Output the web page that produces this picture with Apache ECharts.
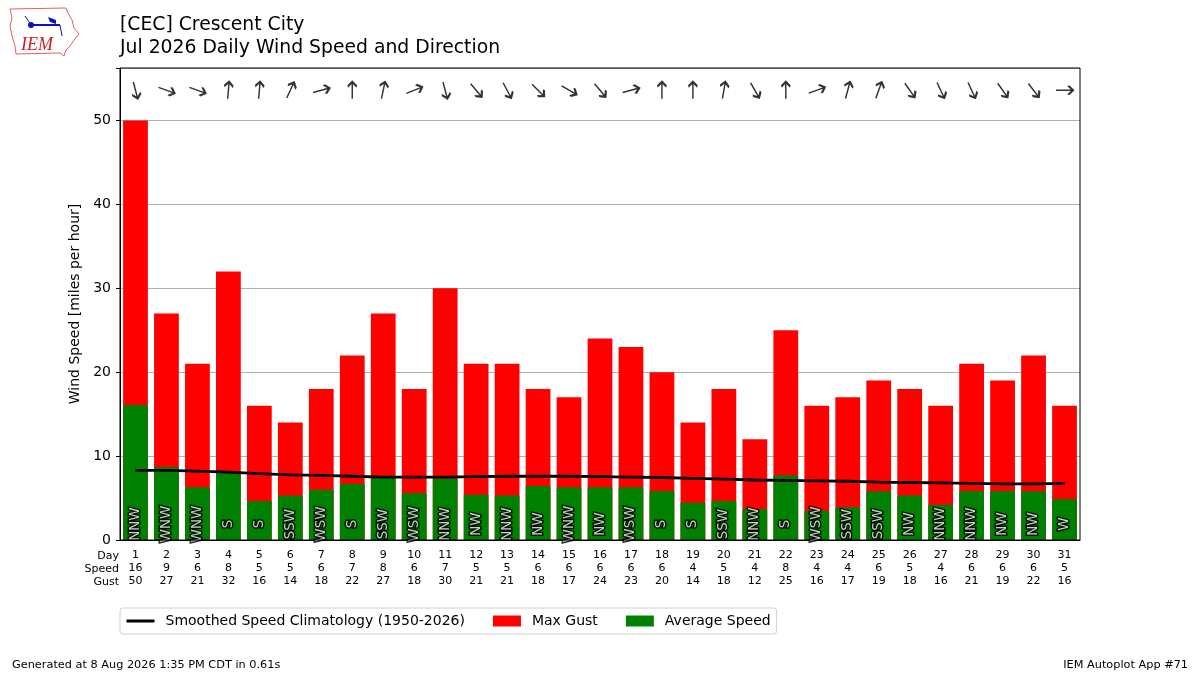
<!DOCTYPE html>
<html>
<head>
<meta charset="utf-8">
<script src="https://cdn.jsdelivr.net/npm/echarts@6/dist/echarts.min.js"></script>
<style>
html,body{margin:0;padding:0;background:#fff;}
#chart{width:1200px;height:675px;}
</style>
</head>
<body>
<div id="chart"></div>
<script>
const days = ['1','2','3','4','5','6','7','8','9','10','11','12','13','14','15','16','17','18','19','20','21','22','23','24','25','26','27','28','29','30','31'];
const maxGust = [50,27,21,32,16,14,18,22,27,18,30,21,21,18,17,24,23,20,14,18,12,25,16,17,19,18,16,21,19,22,16];
const avgSpeed = [16.1,8.7,6.3,8.1,4.65,5.3,6.0,6.7,7.6,5.6,7.3,5.4,5.3,6.45,6.3,6.3,6.3,5.85,4.45,4.65,3.7,7.7,3.5,3.9,5.8,5.3,4.2,5.85,5.85,5.8,4.9];
const speedLabels = [16,9,6,8,5,5,6,7,8,6,7,5,5,6,6,6,6,6,4,5,4,8,4,4,6,5,4,6,6,6,5];
const dirLabels = ['NNW','WNW','WNW','S','S','SSW','WSW','S','SSW','WSW','NNW','NW','NNW','NW','WNW','NW','WSW','S','S','SSW','NNW','S','WSW','SSW','SSW','NW','NNW','NNW','NW','NW','W'];
const dirDegrees = [345,290,290,185,185,205,255,180,192,248,345,320,332,315,300,320,255,180,180,190,330,180,250,195,200,325,335,335,325,322,270];
const climo = [8.3,8.3,8.2,8.1,7.9,7.75,7.7,7.6,7.5,7.5,7.5,7.55,7.6,7.6,7.6,7.55,7.5,7.45,7.35,7.25,7.15,7.1,7.05,7.0,6.9,6.85,6.8,6.75,6.7,6.7,6.75];
const yTicks = [0,10,20,30,40,50];

const FONT = 'DejaVu Sans';
const chart = echarts.init(document.getElementById('chart'), null, {renderer:'canvas'});

const arrowY = 53.6;
const labelY = 1.9;

function dirTextSeries(name, fill, border, bw, z) {
  return {
    name: name, type: 'scatter', z: z,
    data: days.map((d, i) => [i, labelY]),
    symbolSize: 1, itemStyle: {color: 'rgba(0,0,0,0)'},
    label: {
      show: true, position: 'inside', rotate: 90, fontSize: 13.5, color: fill, fontFamily: FONT,
      textBorderColor: border, textBorderWidth: bw,
      formatter: p => dirLabels[p.dataIndex]
    },
    silent: true
  };
}

const option = {
  animation: false,
  backgroundColor: '#fff',
  textStyle: {fontFamily: FONT, color: '#000'},
  grid: {left: 120, right: 120, top: 68, bottom: 135, containLabel: false},
  xAxis: {
    type: 'category',
    data: days,
    boundaryGap: true,
    axisLine: {lineStyle: {color: '#000', width: 1}},
    axisTick: {alignWithLabel: true, length: 4, lineStyle: {color: '#000'}},
    axisLabel: {
      interval: 0, margin: 8, fontSize: 11, lineHeight: 13.3, color: '#000', fontFamily: FONT,
      formatter: (v, i) => v + '\n' + speedLabels[i] + '\n' + maxGust[i]
    },
    splitLine: {show: false}
  },
  yAxis: {
    type: 'value', min: 0, max: 56.25, interval: 10,
    name: 'Wind Speed [miles per hour]', nameLocation: 'middle', nameGap: 31,
    nameTextStyle: {fontSize: 14, color: '#000', fontFamily: FONT},
    axisLine: {show: true, lineStyle: {color: '#000'}},
    axisTick: {show: true, length: 4, lineStyle: {color: '#000'}},
    axisLabel: {fontSize: 14, color: '#000', margin: 9, fontFamily: FONT,
      formatter: v => (yTicks.indexOf(v) >= 0 ? String(v) : '')},
    splitLine: {show: true, lineStyle: {color: '#b0b0b0', width: 1}}
  },
  legend: {
    left: 120, top: 608, orient: 'horizontal',
    padding: [6, 6, 6, 5], itemGap: 28, itemWidth: 28, itemHeight: 11,
    borderColor: '#d0d0d0', borderWidth: 1, borderRadius: 3, backgroundColor: '#fff',
    textStyle: {fontSize: 14, color: '#000', fontFamily: FONT, padding: [0,0,0,6]},
    data: [
      {name: 'Smoothed Speed Climatology (1950-2026)', itemStyle: {opacity: 0}, lineStyle: {width: 3, color: '#000'}},
      {name: 'Max Gust', icon: 'rect'},
      {name: 'Average Speed', icon: 'rect'}
    ]
  },
  series: [
    {
      name: 'Max Gust', type: 'bar', data: maxGust, barWidth: '80%', barGap: '-100%',
      itemStyle: {color: '#ff0000'}, z: 2
    },
    {
      name: 'Average Speed', type: 'bar', data: avgSpeed, barWidth: '80%', barGap: '-100%',
      itemStyle: {color: '#008000'}, z: 3
    },
    {
      name: 'Smoothed Speed Climatology (1950-2026)', type: 'line', data: climo,
      symbol: 'none', showSymbol: false, smooth: false,
      lineStyle: {color: '#000', width: 2.8}, itemStyle: {color: '#000'}, z: 4
    },
    dirTextSeries('dirOutline', '#000', '#000', 3, 6),
    dirTextSeries('dirFill', '#fff', 'rgba(0,0,0,0)', 0, 20),
    {
      name: 'arrows', type: 'scatter', z: 6,
      data: days.map((d, i) => ({value: [i, arrowY], symbolRotate: -((dirDegrees[i] + 180) % 360)})),
      symbol: 'path://M0,-9 L0,9 M-4.5,-4 L0,-9 L4.5,-4',
      symbolSize: [9, 17],
      itemStyle: {color: 'none', borderColor: '#000', borderWidth: 2},
      silent: true
    }
  ],
  graphic: [
    {type: 'rect', z: 100, silent: true, shape: {x: 120, y: 68, width: 960, height: 472},
      style: {fill: 'none', stroke: '#000', lineWidth: 1}},
    {type: 'text', x: 120, y: 25, style: {text: '[CEC] Crescent City', font: '18.8px "DejaVu Sans"', fill: '#000', verticalAlign: 'middle'}},
    {type: 'text', x: 120, y: 48, style: {text: 'Jul 2026 Daily Wind Speed and Direction', font: '18.8px "DejaVu Sans"', fill: '#000', verticalAlign: 'middle'}},
    {type: 'text', x: 119, y: 555.7, style: {text: 'Day', font: '11px "DejaVu Sans"', fill: '#000', align: 'right', verticalAlign: 'middle'}},
    {type: 'text', x: 119, y: 569, style: {text: 'Speed', font: '11px "DejaVu Sans"', fill: '#000', align: 'right', verticalAlign: 'middle'}},
    {type: 'text', x: 119, y: 582.3, style: {text: 'Gust', font: '11px "DejaVu Sans"', fill: '#000', align: 'right', verticalAlign: 'middle'}},
    {type: 'text', x: 12, y: 665, style: {text: 'Generated at 8 Aug 2026 1:35 PM CDT in 0.61s', font: '11.3px "DejaVu Sans"', fill: '#000', verticalAlign: 'middle'}},
    {type: 'text', x: 1188, y: 665, style: {text: 'IEM Autoplot App #71', font: '11.3px "DejaVu Sans"', fill: '#000', align: 'right', verticalAlign: 'middle'}},
    // IEM logo approximation
    {type: 'polygon', silent: true, shape: {points: [[10,9],[66,8],[68,13],[72,20],[74,28],[79,34],[74,40],[70,46],[66,50],[64,56],[60,53],[16,54],[15,46],[12,36],[10,26],[12,18]]},
      style: {fill: '#fff', stroke: '#e06060', lineWidth: 1}},
    {type: 'line', silent: true, shape: {x1: 31, y1: 25, x2: 60, y2: 25}, style: {stroke: '#1010c0', lineWidth: 2}},
    {type: 'circle', silent: true, shape: {cx: 31, cy: 25, r: 3}, style: {fill: '#1010c0'}},
    {type: 'polygon', silent: true, shape: {points: [[48,17],[56,20],[56,24],[50,22]]}, style: {fill: '#1010c0'}},
    {type: 'line', silent: true, shape: {x1: 25, y1: 16, x2: 31, y2: 25}, style: {stroke: '#1010c0', lineWidth: 1}},
    {type: 'line', silent: true, shape: {x1: 60, y1: 25, x2: 62, y2: 36}, style: {stroke: '#1010c0', lineWidth: 1}},
    {type: 'text', x: 21, y: 45, style: {text: 'IEM', font: 'italic 18px "Liberation Serif"', fill: '#d02020', verticalAlign: 'middle'}}
  ]
};
chart.setOption(option);
</script>
</body>
</html>
